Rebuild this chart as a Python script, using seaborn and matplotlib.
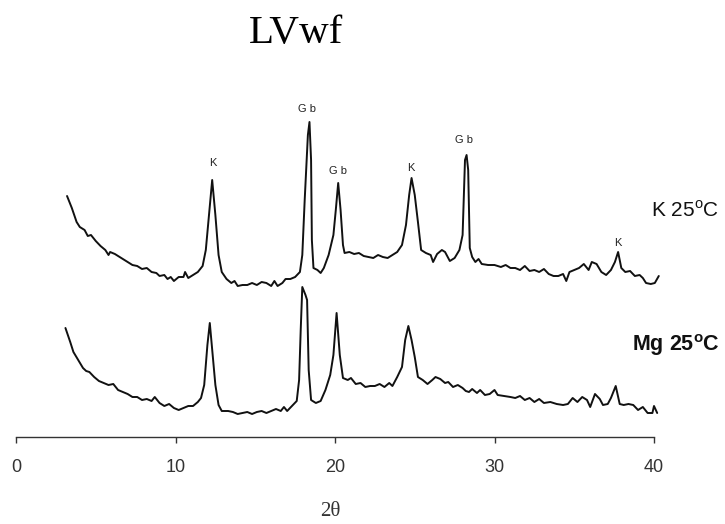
import numpy as np
import pandas as pd
import matplotlib
matplotlib.use("Agg")
import matplotlib.pyplot as plt
import seaborn as sns

# 2-theta positions and intensities (arbitrary units) for the K-saturated sample at 25 °C
two_theta_k = [
    3.2, 3.5, 3.8, 4.0, 4.3, 4.5, 4.7, 5.0, 5.3, 5.6, 5.8, 5.9, 6.2, 6.5, 6.8, 7.0,
    7.3, 7.6, 7.9, 8.2, 8.5, 8.8, 9.0, 9.3, 9.5, 9.7, 9.9, 10.2, 10.5, 10.6, 10.8,
    11.1, 11.4, 11.7, 11.9, 12.1, 12.3, 12.5, 12.7, 12.9, 13.2, 13.5, 13.7, 13.9,
    14.2, 14.5, 14.8, 15.1, 15.4, 15.7, 16.0, 16.2, 16.4, 16.7, 16.9, 17.2, 17.5,
    17.8, 17.95, 18.1, 18.3, 18.4, 18.5, 18.55, 18.65, 18.9, 19.1, 19.3, 19.6, 19.9,
    20.05, 20.2, 20.35, 20.5, 20.6, 20.9, 21.2, 21.5, 21.8, 22.1, 22.4, 22.7, 23.0,
    23.3, 23.6, 23.9, 24.2, 24.45, 24.65, 24.8, 25.0, 25.2, 25.4, 25.7, 26.0, 26.15,
    26.4, 26.7, 26.9, 27.2, 27.5, 27.8, 28.0, 28.15, 28.25, 28.35, 28.45, 28.6, 28.8,
    29.0, 29.2, 29.6, 30.0, 30.4, 30.7, 31.0, 31.3, 31.6, 31.9, 32.2, 32.5, 32.8,
    33.1, 33.4, 33.7, 34.0, 34.3, 34.5, 34.7, 35.0, 35.3, 35.6, 35.9, 36.1, 36.4,
    36.7, 37.0, 37.3, 37.55, 37.75, 37.95, 38.2, 38.5, 38.8, 39.1, 39.3, 39.5, 39.8,
    40.05, 40.3,
]
intensity_k = [
    111, 99, 85, 80, 77, 71, 72, 66, 61, 57, 52, 55, 53, 50, 47, 45,
    42, 41, 38, 39, 35, 34, 31, 32, 28, 30, 26, 30, 30, 35, 29,
    32, 35, 41, 57, 92, 127, 92, 52, 35, 28, 24, 26, 21,
    22, 22, 24, 22, 25, 24, 21, 26, 21, 24, 28, 28, 30,
    35, 52, 107, 172, 185, 147, 67, 39, 37, 34, 39, 52, 72,
    97, 124, 97, 62, 54, 55, 53, 54, 51, 50, 49, 52, 50,
    49, 52, 55, 62, 82, 112, 129, 112, 85, 57, 54, 52, 45,
    53, 57, 55, 46, 49, 57, 72, 147, 152, 137, 59, 50, 45,
    48, 43, 42, 42, 40, 42, 39, 39, 37, 41, 36, 37, 35,
    38, 33, 31, 31, 33, 26, 35, 37, 39, 43, 37, 45, 43,
    35, 32, 37, 45, 55, 39, 35, 36, 31, 32, 29, 24, 23,
    24, 31,
]

# 2-theta positions and intensities for the Mg-saturated sample at 25 °C
two_theta_mg = [
    3.1, 3.4, 3.6, 3.9, 4.2, 4.4, 4.6, 4.9, 5.2, 5.5, 5.8, 6.1, 6.4, 6.7, 7.0, 7.3,
    7.6, 7.9, 8.2, 8.5, 8.7, 9.0, 9.3, 9.6, 9.9, 10.2, 10.5, 10.8, 11.1, 11.4, 11.6,
    11.8, 12.0, 12.15, 12.3, 12.5, 12.7, 12.9, 13.3, 13.6, 13.9, 14.2, 14.5, 14.8,
    15.1, 15.4, 15.7, 16.0, 16.3, 16.6, 16.8, 17.0, 17.3, 17.6, 17.75, 17.85, 17.95,
    18.15, 18.25, 18.35, 18.5, 18.8, 19.1, 19.4, 19.7, 19.9, 20.1, 20.3, 20.5, 20.8,
    21.0, 21.3, 21.6, 21.9, 22.2, 22.5, 22.8, 23.1, 23.4, 23.6, 23.9, 24.2, 24.4,
    24.6, 24.8, 25.0, 25.2, 25.5, 25.8, 26.1, 26.3, 26.6, 26.9, 27.1, 27.4, 27.7,
    28.0, 28.2, 28.4, 28.6, 28.9, 29.1, 29.4, 29.7, 30.0, 30.2, 30.6, 31.0, 31.3,
    31.6, 31.9, 32.2, 32.5, 32.8, 33.1, 33.5, 33.9, 34.3, 34.6, 34.9, 35.2, 35.5,
    35.8, 36.0, 36.3, 36.6, 36.8, 37.1, 37.3, 37.6, 37.85, 38.1, 38.4, 38.7, 39.0,
    39.3, 39.6, 39.9, 40.0, 40.2,
]
intensity_mg = [
    109, 95, 85, 77, 69, 66, 65, 60, 56, 54, 52, 53, 47, 45, 43, 40,
    40, 37, 38, 36, 40, 34, 31, 33, 29, 27, 29, 31, 31, 35, 39,
    52, 92, 114, 87, 52, 32, 26, 26, 25, 23, 24, 25, 23,
    25, 26, 24, 26, 28, 26, 30, 26, 31, 36, 57, 107, 150,
    142, 137, 67, 37, 34, 36, 47, 62, 82, 124, 82, 59, 57,
    59, 53, 54, 50, 51, 51, 53, 50, 54, 51, 60, 70, 97,
    111, 97, 80, 60, 57, 53, 57, 60, 58, 54, 55, 50, 52,
    49, 46, 45, 48, 44, 47, 42, 43, 47, 42, 41, 40, 39,
    41, 37, 39, 35, 38, 34, 35, 33, 32, 33, 39, 35, 40,
    37, 30, 43, 38, 32, 33, 39, 51, 33, 32, 33, 32, 27,
    30, 24, 24, 31, 24,
]

# vertical shift that stacks the K pattern above the Mg pattern
k_offset = 130

# peak identifications: K = kaolinite, Gb = gibbsite
peak_labels = ["K", "G b", "G b", "K", "G b", "K"]
peak_label_x = [12.35, 18.25, 20.2, 24.75, 28.1, 37.75]
peak_label_y = [274, 328, 266, 269, 297, 194]

x_ticks = [0, 10, 20, 30, 40]

sns.set_style("white")
plt.rcParams["font.family"] = ["Liberation Sans", "DejaVu Sans"]

df_k = pd.DataFrame({"two_theta": two_theta_k,
                     "intensity": np.array(intensity_k) + k_offset})
df_mg = pd.DataFrame({"two_theta": two_theta_mg, "intensity": intensity_mg})

fig = plt.figure(figsize=(7.25, 5.24), dpi=100)
ax = fig.add_axes([16 / 725, 1 - 437 / 524, (654 - 16) / 725, (437 - 90) / 524])

line_kw = dict(color="#111111", linewidth=1.4, estimator=None, sort=False,
               legend=False)
sns.lineplot(data=df_k, x="two_theta", y="intensity", ax=ax, **line_kw)
sns.lineplot(data=df_mg, x="two_theta", y="intensity", ax=ax, **line_kw)
for line in ax.lines:
    line.set_clip_on(False)

ax.set_xlim(0, 40)
ax.set_ylim(0, 347)
ax.set_xticks(x_ticks)
ax.set_xticklabels([str(t) for t in x_ticks])
ax.set_yticks([])
ax.set_ylabel("")
ax.tick_params(axis="x", bottom=True, direction="out", length=4, width=1.0,
               pad=12, labelsize=13, colors="#333333")
for side in ["top", "right", "left"]:
    ax.spines[side].set_visible(False)
ax.spines["bottom"].set_color("#333333")
ax.spines["bottom"].set_linewidth(1.0)

ax.set_xlabel("2θ", fontsize=15, family=["Liberation Serif", "DejaVu Serif"],
              color="#333333")
ax.xaxis.set_label_coords((330 - 16) / (654 - 16), -(512 - 437) / (437 - 90))
ax.xaxis.label.set_va("center")

for txt, px, py in zip(peak_labels, peak_label_x, peak_label_y):
    ax.text(px, py, txt, fontsize=8, ha="center", va="center", color="#222222")

ax.text(44.1, 227, r"K 25$^{\mathregular{o}}$C", fontsize=15, ha="right",
        va="center", color="#111111", clip_on=False)
ax.text(44.1, 92, r"Mg 25$^{\mathregular{o}}$C", fontsize=15.5, ha="right",
        va="center", color="#111111", fontweight="bold", clip_on=False)

fig.text(296 / 725, 1 - 33 / 524, "LVwf", fontsize=29.5, ha="center",
         va="center", family=["Liberation Serif", "DejaVu Serif"], color="black")

fig.savefig("out.png", dpi=100, facecolor="white")
